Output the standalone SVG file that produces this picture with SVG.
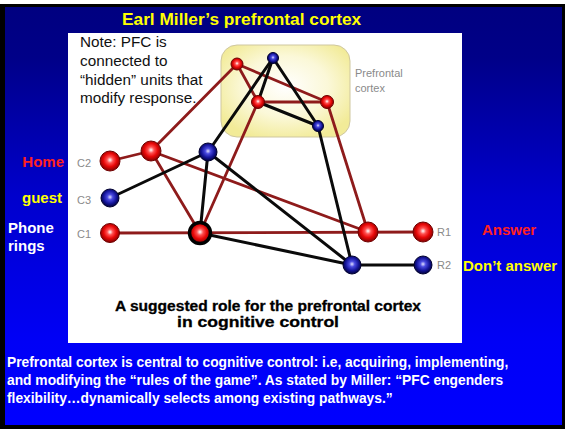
<svg xmlns="http://www.w3.org/2000/svg" width="565" height="429" viewBox="0 0 565 429">
<defs>
<linearGradient id="bg" x1="0" y1="0" x2="0" y2="1">
<stop offset="0" stop-color="#000080"/>
<stop offset="0.12" stop-color="#000088"/>
<stop offset="0.45" stop-color="#0000cc"/>
<stop offset="0.8" stop-color="#0000f6"/>
<stop offset="1" stop-color="#0000ff"/>
</linearGradient>
<radialGradient id="pfc" cx="0.5" cy="0.45" r="0.6">
<stop offset="0" stop-color="#ffffff"/>
<stop offset="0.55" stop-color="#fbf8d8"/>
<stop offset="1" stop-color="#f2eb98"/>
</radialGradient>
<radialGradient id="red" cx="0.5" cy="0.45" r="0.55">
<stop offset="0" stop-color="#ffffff"/>
<stop offset="0.28" stop-color="#ff5050"/>
<stop offset="0.6" stop-color="#e80808"/>
<stop offset="1" stop-color="#800000"/>
</radialGradient>
<radialGradient id="blue" cx="0.5" cy="0.45" r="0.55">
<stop offset="0" stop-color="#e0e0ff"/>
<stop offset="0.28" stop-color="#4a4ae0"/>
<stop offset="0.65" stop-color="#15159a"/>
<stop offset="1" stop-color="#000038"/>
</radialGradient>
<style>
.rl{stroke:#8e1b1b;stroke-width:2.8;fill:none;stroke-linecap:round}
.bl{stroke:#0a0a0a;stroke-width:3;fill:none;stroke-linecap:round}
.rn{fill:url(#red);stroke:#700000;stroke-width:1}
.bn{fill:url(#blue);stroke:#000030;stroke-width:1}
.big{fill:url(#red);stroke:#000000;stroke-width:3.5}
.lab{font-family:"Liberation Sans",Arial,sans-serif;font-size:11px;fill:#8a8a8a}
.side{font-family:"Liberation Sans",Arial,sans-serif;font-size:15px;font-weight:bold}
.note{font-family:"Liberation Sans",Arial,sans-serif;font-size:15.3px;fill:#111}
.cap{font-family:"Liberation Sans",Arial,sans-serif;font-size:14.5px;font-weight:bold;fill:#000;stroke:#000;stroke-width:0.3}
.body{font-family:"Liberation Sans",Arial,sans-serif;font-size:13.8px;font-weight:bold;fill:#ffffff}
</style>
</defs>
<rect x="0" y="0" width="565" height="429" fill="#ffffff"/>
<rect x="0" y="4" width="565" height="425" fill="#000000"/>
<rect x="5" y="7" width="557" height="418" fill="url(#bg)"/>
<text x="122" y="25" font-family="Liberation Sans, Arial, sans-serif" font-size="17.3" font-weight="bold" fill="#ffff00">Earl Miller’s prefrontal cortex</text>
<rect x="68" y="33" width="394" height="310" fill="#ffffff"/>
<g id="pfc-region">
<rect x="221" y="45" width="129" height="92" rx="16" ry="16" fill="url(#pfc)" stroke="#cfc7a0" stroke-width="1"/>
<text class="lab" x="355" y="77" font-size="10.8">Prefrontal</text>
<text class="lab" x="355" y="92" font-size="10.8">cortex</text>
</g>
<g id="note">
<text class="note" x="80" y="47">Note: PFC is</text>
<text class="note" x="80" y="66">connected to</text>
<text class="note" x="80" y="85">“hidden” units that</text>
<text class="note" x="80" y="103">modify response.</text>
</g>
<g id="connectors">
<line class="rl" x1="110" y1="161" x2="151" y2="151"/>
<line class="rl" x1="151" y1="151" x2="237" y2="64"/>
<line class="rl" x1="151" y1="151" x2="200" y2="233"/>
<line class="rl" x1="151" y1="151" x2="368" y2="232"/>
<line class="rl" x1="237" y1="64" x2="327" y2="102"/>
<line class="rl" x1="237" y1="64" x2="258" y2="102"/>
<line class="rl" x1="258" y1="102" x2="327" y2="102"/>
<line class="rl" x1="258" y1="102" x2="200" y2="233"/>
<line class="rl" x1="327" y1="102" x2="368" y2="232"/>
<line class="rl" x1="110" y1="233" x2="423" y2="232"/>
<line class="bl" x1="110" y1="198" x2="208" y2="152"/>
<line class="bl" x1="208" y1="152" x2="273" y2="58"/>
<line class="bl" x1="208" y1="152" x2="200" y2="233"/>
<line class="bl" x1="208" y1="152" x2="352" y2="265"/>
<line class="bl" x1="200" y1="233" x2="352" y2="265"/>
<line class="bl" x1="352" y1="265" x2="423" y2="265"/>
<line class="bl" x1="273" y1="58" x2="318" y2="126"/>
<line class="bl" x1="273" y1="58" x2="258" y2="102"/>
<line class="bl" x1="258" y1="102" x2="318" y2="126"/>
<line class="bl" x1="318" y1="126" x2="352" y2="265"/>
</g>
<g id="node-c2"><circle class="rn" cx="110" cy="161" r="10"/><text class="lab" x="77" y="167">C2</text></g>
<g id="node-c3"><circle class="bn" cx="110" cy="198" r="9"/><text class="lab" x="77" y="204">C3</text></g>
<g id="node-c1"><circle class="rn" cx="110" cy="233" r="9.5"/><text class="lab" x="77" y="238">C1</text></g>
<g id="node-a"><circle class="rn" cx="151" cy="151" r="10"/></g>
<g id="node-blue-hidden"><circle class="bn" cx="208" cy="152" r="9"/></g>
<g id="node-big"><circle class="big" cx="200" cy="233" r="10.5"/></g>
<g id="node-pfc-red-tl"><circle class="rn" cx="237" cy="64" r="6"/></g>
<g id="node-pfc-blue-top"><circle class="bn" cx="273" cy="58" r="5.5"/></g>
<g id="node-pfc-red-mid"><circle class="rn" cx="258" cy="102" r="6.5"/></g>
<g id="node-pfc-red-right"><circle class="rn" cx="327" cy="102" r="6.5"/></g>
<g id="node-pfc-blue-lr"><circle class="bn" cx="318" cy="126" r="5.5"/></g>
<g id="node-r1-hidden"><circle class="rn" cx="368" cy="232" r="10"/></g>
<g id="node-r1"><circle class="rn" cx="423" cy="232" r="10"/><text class="lab" x="437" y="236">R1</text></g>
<g id="node-r2-hidden"><circle class="bn" cx="352" cy="265" r="9"/></g>
<g id="node-r2"><circle class="bn" cx="423" cy="265" r="9"/><text class="lab" x="437" y="269">R2</text></g>
<g id="caption">
<text class="cap" x="115" y="311" textLength="306" lengthAdjust="spacingAndGlyphs">A suggested role for the prefrontal cortex</text>
<text class="cap" x="177" y="327" textLength="162" lengthAdjust="spacingAndGlyphs">in cognitive control</text>
</g>
<g id="side-labels">
<text class="side" x="64" y="167" text-anchor="end" fill="#ff2020">Home</text>
<text class="side" x="62" y="203" text-anchor="end" fill="#ffff00">guest</text>
<text class="side" x="8" y="233" fill="#ffffff">Phone</text>
<text class="side" x="8" y="251" fill="#ffffff">rings</text>
<text class="side" x="482" y="235" fill="#ff2020">Answer</text>
<text class="side" x="463" y="271" fill="#ffff00">Don’t answer</text>
</g>
<g id="body-text">
<text class="body" x="7" y="367">Prefrontal cortex is central to cognitive control: i.e, acquiring, implementing,</text>
<text class="body" x="7" y="385">and modifying the “rules of the game”. As stated by Miller: “PFC engenders</text>
<text class="body" x="7" y="403">flexibility…dynamically selects among existing pathways.”</text>
</g>
</svg>
